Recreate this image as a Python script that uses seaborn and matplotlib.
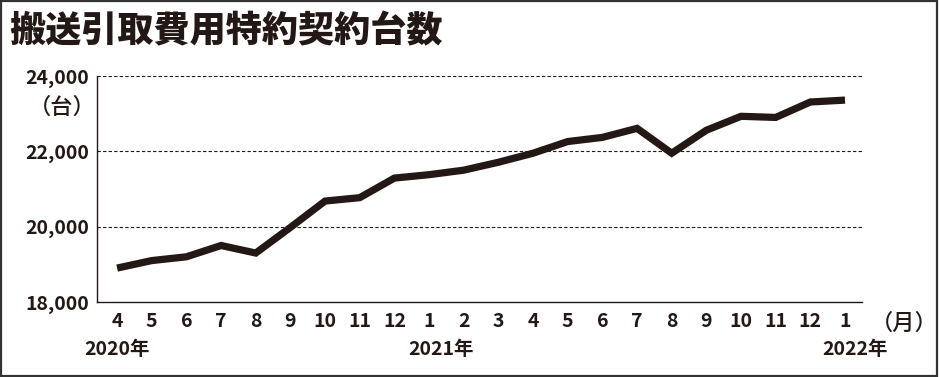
import matplotlib
matplotlib.use("Agg")
import matplotlib.pyplot as plt
import seaborn as sns
import pandas as pd
from matplotlib.patches import Rectangle

months = ["4", "5", "6", "7", "8", "9", "10", "11", "12", "1", "2", "3",
          "4", "5", "6", "7", "8", "9", "10", "11", "12", "1"]
values = [18900, 19100, 19200, 19500, 19300, 19980, 20680, 20770, 21290, 21380,
          21500, 21710, 21950, 22260, 22370, 22610, 21950, 22560, 22930, 22900,
          23310, 23360]
year_labels = ["2020年", "2021年", "2022年"]
year_pos = [0, 9.35, 21.3]
y_ticks = [18000, 20000, 22000, 24000]
y_tick_labels = ["18,000", "20,000", "22,000", "24,000"]
title = "搬送引取費用特約契約台数"

sns.set_theme(style="white")
plt.rcParams["font.family"] = ["Liberation Sans Narrow", "Noto Sans CJK JP", "DejaVu Sans"]

df = pd.DataFrame({"idx": range(len(values)), "value": values})

fig = plt.figure(figsize=(9.39, 3.77), dpi=100)
ax = fig.add_axes([97/939, 1-302/377, (862-97)/939, (302-76)/377])

ink = "#231815"
sns.lineplot(data=df, x="idx", y="value", ax=ax, color=ink, linewidth=5.2,
             solid_joinstyle="miter", solid_capstyle="butt")

ax.set_xlim(-0.58, 21.49)
ax.set_ylim(18000, 24000)
ax.set_yticks(y_ticks)
ax.set_yticklabels(y_tick_labels, fontsize=14, fontweight="bold", color=ink)
ax.set_xticks(range(len(months)))
ax.set_xticklabels(months, fontsize=14, fontweight="bold", color=ink)
ax.tick_params(axis="both", length=0, pad=6)
ax.tick_params(axis="x", pad=7)
ax.set_xlabel("")
ax.set_ylabel("")

for v in y_ticks[1:]:
    ax.axhline(v, color=ink, linestyle=(0, (3, 2)), linewidth=0.8, zorder=0)

for s in ["top", "right"]:
    ax.spines[s].set_visible(False)
for s in ["left", "bottom"]:
    ax.spines[s].set_color(ink)
    ax.spines[s].set_linewidth(1.0)

for lab, p in zip(year_labels, year_pos):
    ax.text(p, -0.21, lab, transform=ax.get_xaxis_transform(), ha="center", va="center",
            fontsize=14, fontweight="bold", color=ink)

ax.text(21.75, -0.095, "（月）", transform=ax.get_xaxis_transform(), ha="left", va="center",
        fontsize=16, fontweight="medium", color=ink, family=["Noto Sans CJK JP"])
fig.text(62/939, 1-107/377, "（台）", ha="center", va="center", fontsize=16,
         fontweight="medium", color=ink, family=["Noto Sans CJK JP"])

fig.text(9/939, 1-31/377, title, ha="left", va="center", fontsize=26, fontweight="heavy",
         color=ink, family=["Noto Sans CJK JP"])

fig.patches.append(Rectangle((0.001, 0.002), 0.997, 0.995, transform=fig.transFigure,
                             fill=False, edgecolor="#333333", linewidth=1.6))

fig.savefig("out.png", dpi=100)
